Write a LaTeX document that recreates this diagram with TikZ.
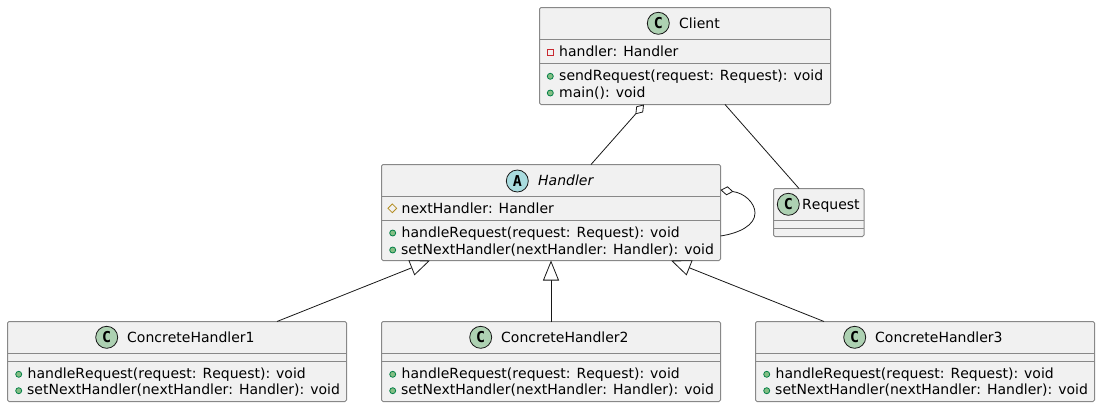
\documentclass[tikz,border=0pt]{standalone}
\usepackage{fontspec}
\setmainfont[Kerning=Off]{DejaVu Sans}
\newfontfamily\spotfont{DejaVu Sans Mono}
\usetikzlibrary{arrows.meta,shapes.geometric}
\definecolor{boxfill}{HTML}{F1F1F1}
\definecolor{boxline}{HTML}{888888}
\definecolor{ink}{HTML}{181818}
\tikzstyle{classbox} = [rectangle, draw=boxline, fill=boxfill, line width=1pt, rounded corners=1.5pt, anchor=north west, inner sep=0pt, outer sep=0pt, minimum width=339pt]
\tikzstyle{sep} = [draw=boxline, line width=1pt]
\tikzstyle{spot} = [circle, draw=ink, line width=0.8pt, inner sep=0pt, minimum size=22pt, text=black, font=\spotfont\bfseries\fontsize{15}{15}\selectfont]
\tikzstyle{title} = [anchor=base west, inner sep=0pt, text=black, font=\fontsize{14}{16}\selectfont]
\tikzstyle{member} = [title]
\tikzstyle{pub} = [circle, draw={rgb,255:red,3;green,128;blue,72}, fill={rgb,255:red,132;green,190;blue,132}, line width=0.8pt, inner sep=0pt, minimum size=6pt]
\tikzstyle{priv} = [rectangle, draw={rgb,255:red,200;green,41;blue,48}, line width=0.8pt, inner sep=0pt, minimum size=6.5pt]
\tikzstyle{prot} = [diamond, draw={rgb,255:red,179;green,141;blue,34}, line width=0.8pt, inner sep=0pt, minimum size=9pt]
\tikzstyle{line} = [draw=ink, line width=0.8pt]
\tikzstyle{aggr} = [line, {Diamond[fill=white,length=13pt,width=9pt]}-]
\tikzstyle{inherit} = [line, -{Triangle[fill=white,length=20pt,width=16pt]}]

\begin{document}
\begin{tikzpicture}[x=1pt, y=-1pt]
	\useasboundingbox (0,0) rectangle (1100,407);

	% Client
	\node[classbox, minimum width=291pt, minimum height=97pt] (client) at (539.5,7.5) {};
	\draw[sep] ([yshift=-32pt]client.north west) -- ([yshift=-32pt]client.north east);
	\draw[sep] ([yshift=-56pt]client.north west) -- ([yshift=-56pt]client.north east);
	\node[spot, fill={rgb,255:red,173;green,209;blue,178}] (clientspot) at (658.3,23.3) {C};
	\node[title] (clienttitle) at (679,28.3) {Client};
	\node[priv] (clientm1) at (550.5,52.3) {};
	\node[member] (clienttxt1) at (559,56) {handler: Handler};
	\node[pub] (clientm2) at (550.3,76.3) {};
	\node[member] (clienttxt2) at (559,80) {sendRequest(request: Request): void};
	\node[pub] (clientm3) at (550.3,93) {};
	\node[member] (clienttxt3) at (559,97) {main(): void};

	% Handler
	\node[classbox, minimum height=96pt] (handler) at (381.5,164.5) {};
	\draw[sep] ([yshift=-32pt]handler.north west) -- ([yshift=-32pt]handler.north east);
	\draw[sep] ([yshift=-56pt]handler.north west) -- ([yshift=-56pt]handler.north east);
	\node[spot, fill={rgb,255:red,169;green,220;blue,223}] (handlerspot) at (517.3,181) {A};
	\node[title, font=\itshape\fontsize{14}{16}\selectfont] (handlertitle) at (538,185) {Handler};
	\node[prot] (handlerm1) at (392.3,208.3) {};
	\node[member] (handlertxt1) at (401.5,213.3) {nextHandler: Handler};
	\node[pub] (handlerm2) at (392.7,233) {};
	\node[member] (handlertxt2) at (401.5,237) {handleRequest(request: Request): void};
	\node[pub] (handlerm3) at (392.7,250) {};
	\node[member] (handlertxt3) at (401,254) {setNextHandler(nextHandler: Handler): void};

	% Request
	\node[classbox, minimum width=90.5pt, minimum height=48pt] (request) at (773.5,188.5) {};
	\draw[sep] ([yshift=-32pt]request.north west) -- ([yshift=-32pt]request.north east);
	\draw[sep] ([yshift=-40pt]request.north west) -- ([yshift=-40pt]request.north east);
	\node[spot, fill={rgb,255:red,173;green,209;blue,178}] (requestspot) at (788.3,204.3) {C};
	\node[title] (requesttitle) at (802,209) {Request};

	% ConcreteHandler1
	\node[classbox, minimum height=80pt] (ch1) at (7.5,321.5) {};
	\draw[sep] ([yshift=-32pt]ch1.north west) -- ([yshift=-32pt]ch1.north east);
	\draw[sep] ([yshift=-40pt]ch1.north west) -- ([yshift=-40pt]ch1.north east);
	\node[spot, fill={rgb,255:red,173;green,209;blue,178}] (ch1spot) at (106.7,337.3) {C};
	\node[title] (ch1title) at (127,342) {ConcreteHandler1};
	\node[pub] (ch1m1) at (18.7,374.3) {};
	\node[member] (ch1txt1) at (27.5,378) {handleRequest(request: Request): void};
	\node[pub] (ch1m2) at (18.7,390.7) {};
	\node[member] (ch1txt2) at (27,394.5) {setNextHandler(nextHandler: Handler): void};

	% ConcreteHandler2
	\node[classbox, minimum height=80pt] (ch2) at (381.5,321.5) {};
	\draw[sep] ([yshift=-32pt]ch2.north west) -- ([yshift=-32pt]ch2.north east);
	\draw[sep] ([yshift=-40pt]ch2.north west) -- ([yshift=-40pt]ch2.north east);
	\node[spot, fill={rgb,255:red,173;green,209;blue,178}] (ch2spot) at (480.7,337.3) {C};
	\node[title] (ch2title) at (501,342) {ConcreteHandler2};
	\node[pub] (ch2m1) at (392.7,374.3) {};
	\node[member] (ch2txt1) at (401.5,378) {handleRequest(request: Request): void};
	\node[pub] (ch2m2) at (392.7,390.7) {};
	\node[member] (ch2txt2) at (401,394.5) {setNextHandler(nextHandler: Handler): void};

	% ConcreteHandler3
	\node[classbox, minimum height=80pt] (ch3) at (755.5,321.5) {};
	\draw[sep] ([yshift=-32pt]ch3.north west) -- ([yshift=-32pt]ch3.north east);
	\draw[sep] ([yshift=-40pt]ch3.north west) -- ([yshift=-40pt]ch3.north east);
	\node[spot, fill={rgb,255:red,173;green,209;blue,178}] (ch3spot) at (854.7,337.3) {C};
	\node[title] (ch3title) at (875,342) {ConcreteHandler3};
	\node[pub] (ch3m1) at (766.7,374.3) {};
	\node[member] (ch3txt1) at (775.5,378) {handleRequest(request: Request): void};
	\node[pub] (ch3m2) at (766.7,390.7) {};
	\node[member] (ch3txt2) at (775,394.5) {setNextHandler(nextHandler: Handler): void};

	% associations
	\draw[aggr] ([xshift=104.5pt]client.south west) -- ([xshift=209.5pt]handler.north west);
	\draw[line] ([xshift=185.5pt]client.south west) -- ([xshift=25.5pt]request.north west);
	\draw[aggr] ([yshift=-25.5pt]handler.north east) .. controls +(24,3) and (755,203) .. (755,213) .. controls (755,225) and (740,233) .. ([yshift=-71.5pt]handler.north east);

	% inheritance
	\draw[inherit] ([xshift=269.5pt]ch1.north west) -- ([xshift=48.5pt]handler.south west);
	\draw[inherit] (ch2.north) -- (handler.south);
	\draw[inherit] ([xshift=68.5pt]ch3.north west) -- ([xshift=289.5pt]handler.south west);
\end{tikzpicture}
\end{document}
